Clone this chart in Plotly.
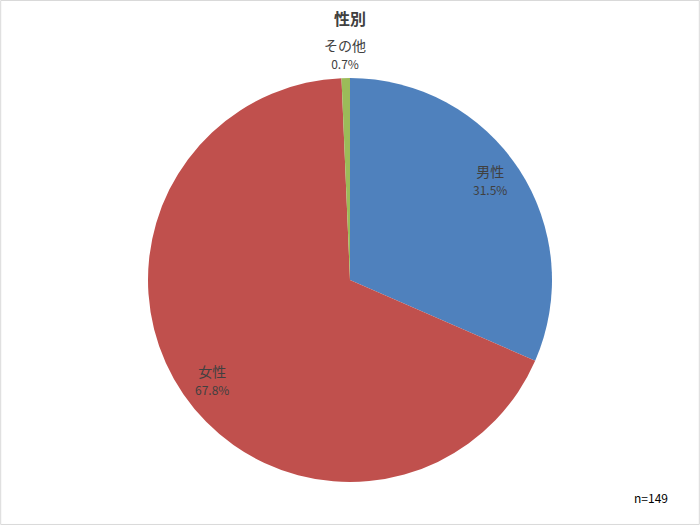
"""Pie chart of respondents by gender (性別)"""

import math
import plotly.graph_objs as go

# data
categories = ["男性", "女性", "その他"]
counts = [47, 101, 1]
colors = ["#4F81BD", "#C0504D", "#9BBB59"]
# label distance from centre (fraction of pie radius) and angle nudge (degrees)
label_radius = [0.85, 0.84, 1.12]
label_nudge = [-2.4, -1.4, 0.0]

title = "性別"
n_total = sum(counts)

FONT = "Noto Sans CJK JP"
W, H = 700, 525
# pie centre and radius in pixels
cx, cy, R = 350, 280, 202

fig = go.Figure(data=[go.Pie(
    labels=categories,
    values=counts,
    sort=False,
    direction="clockwise",
    rotation=0,
    marker=dict(colors=colors, line=dict(color="white", width=0)),
    textinfo="none",
    hoverinfo="label+percent",
    showlegend=False,
    domain=dict(x=[(cx - R) / W, (cx + R) / W],
                y=[1 - (cy + R) / H, 1 - (cy - R) / H]),
)])

# labels placed at the middle angle of each slice
annotations = []
start = 0.0
for name, val, rf, nudge in zip(categories, counts, label_radius, label_nudge):
    frac = val / n_total
    mid = (start + frac / 2) * 2 * math.pi + math.radians(nudge)
    start += frac
    px = cx + rf * R * math.sin(mid)
    py = cy - rf * R * math.cos(mid)
    annotations.append(dict(
        x=px / W, y=1 - py / H, xref="paper", yref="paper",
        text="{}<br><span style='font-size:12px'>{:.1f}%</span>".format(name, frac * 100),
        showarrow=False, font=dict(family=FONT, size=14, color="#404040"),
        xanchor="center", yanchor="middle",
    ))

annotations.append(dict(
    x=651 / W, y=1 - 497 / H, xref="paper", yref="paper",
    text="n={}".format(n_total), showarrow=False,
    xanchor="center", yanchor="middle",
    font=dict(family=FONT, size=12, color="#000000"),
))

fig.update_layout(
    width=W, height=H,
    margin=dict(l=0, r=0, t=0, b=0),
    paper_bgcolor="white",
    title=dict(text="<b>{}</b>".format(title), x=0.5, xanchor="center",
               y=1 - 19 / H, yanchor="middle",
               font=dict(family=FONT, size=16, color="#404040")),
    annotations=annotations,
    shapes=[dict(type="rect", xref="paper", yref="paper", x0=0.001, y0=0.001,
                 x1=0.999, y1=0.999, line=dict(color="#D9D9D9", width=1))],
)

# drop the default page margin so the chart sits at the window's corner
fig.write_html("out.html", config={"displayModeBar": False},
               post_script="document.body.style.margin='0';")
